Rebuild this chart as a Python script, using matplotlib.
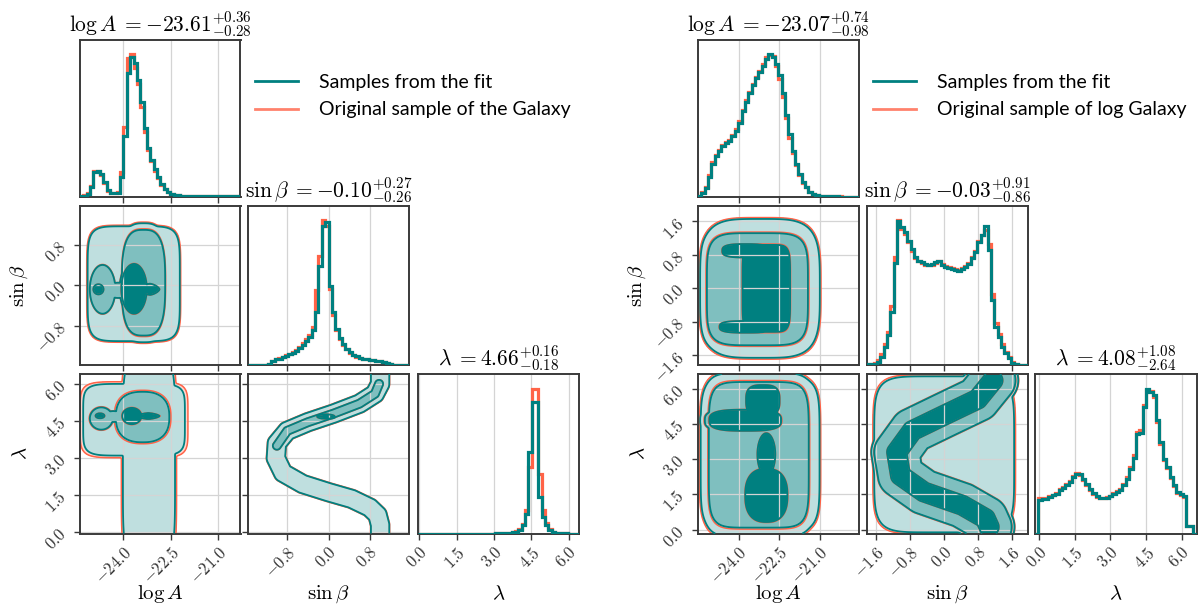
import numpy as np
import matplotlib
matplotlib.use('Agg')
import matplotlib.pyplot as plt
from matplotlib.lines import Line2D
from matplotlib.ticker import FixedLocator, FuncFormatter, NullLocator

plt.rcParams['mathtext.fontset'] = 'cm'
plt.rcParams['font.family'] = ['Lato', 'DejaVu Sans']

TEAL = '#008080'
RED = '#ff6347'
SPINE = '#3a3a3a'
TAU = 0.08      # softness of region joins
STEEP = 8.0     # edge steepness of a region

labels = [r'$\log A$', r'$\sin\beta$', r'$\lambda$']

# ---------------- left corner: "the Galaxy" ----------------
left_ranges = [(-25.35, -20.30), (-1.56, 1.56), (-0.05, 6.40)]
left_ticks = [[-24.0, -22.5, -21.0], [-0.8, 0.0, 0.8], [0.0, 1.5, 3.0, 4.5, 6.0]]
left_titles = [r'$\log A\;= {-23.61}^{+0.36}_{-0.28}$',
               r'$\sin\beta\;= {-0.10}^{+0.27}_{-0.26}$',
               r'$\lambda\;= {4.66}^{+0.16}_{-0.18}$']
left_legend = ['Samples from the fit', 'Original sample of the Galaxy']

# histogram heights, 48 bins over each range
left_logA_fit = [2, 3, 8, 28, 75, 80, 70, 45, 20, 12, 10, 12, 60, 185, 380, 430, 410, 360, 290, 210,
                 150, 113, 85, 60, 38, 24, 14, 9, 6, 4, 3, 3, 2, 2, 2, 1, 1, 1, 1, 1, 1, 1, 1, 1, 1, 1, 1, 1]
left_logA_orig = [2, 4, 10, 32, 78, 80, 66, 42, 18, 11, 10, 14, 75, 215, 425, 438, 395, 345, 275, 200,
                  142, 108, 80, 56, 35, 22, 13, 8, 6, 4, 3, 3, 2, 2, 2, 2, 2, 2, 2, 2, 2, 2, 2, 2, 2, 2, 2, 2]
left_sinb_fit = [0, 0, 0, 0, 0, 0, 3, 10, 16, 18, 22, 26, 31, 36, 42, 50, 60, 72, 85, 105,
                 160, 300, 420, 433, 238, 160, 108, 82, 62, 48, 38, 30, 25, 20, 18, 17, 15, 13, 12, 11,
                 8, 5, 2, 0, 0, 0, 0, 0]
left_sinb_orig = [0, 0, 0, 0, 0, 0, 3, 11, 17, 19, 23, 28, 33, 38, 45, 54, 64, 76, 90, 115,
                  225, 330, 438, 420, 230, 150, 104, 78, 60, 46, 36, 29, 24, 20, 18, 16, 14, 13, 12, 10,
                  7, 4, 2, 0, 0, 0, 0, 0]
left_lam_fit = [0] * 23 + [2, 3, 3, 3, 3, 4, 6, 12, 25, 60, 245, 398, 398, 110, 50, 25, 12, 5, 3, 2,
                           2, 1, 0, 0, 0]
left_lam_orig = [0] * 23 + [2, 3, 3, 3, 3, 4, 7, 14, 30, 70, 200, 438, 438, 180, 70, 32, 14, 6, 3, 2,
                            2, 1, 0, 0, 0]

# contour regions
# ('box', level, centre x, centre y, half width x, half width y, squareness)
# ('path', level, centre-line x, centre-line y, half width in axes units)
left_AS = [('box', 1, -23.66, 0.03, 1.45, 1.13, 6),
           ('box', 2, -24.64, -0.08, 0.40, 0.48, 2),
           ('box', 2, -23.35, 0.05, 0.68, 1.04, 3),
           ('box', 2, -24.15, -0.10, 0.35, 0.15, 2),
           ('box', 3, -24.77, -0.08, 0.16, 0.10, 2),
           ('box', 3, -23.65, -0.07, 0.40, 0.49, 2),
           ('box', 3, -23.15, -0.08, 0.30, 0.11, 1.5)]
left_AL = [('box', 1, -23.18, 3.0, 0.82, 4.0, 6),
           ('box', 1, -23.65, 4.55, 1.60, 1.45, 6),
           ('box', 2, -24.68, 4.60, 0.36, 0.45, 2),
           ('box', 2, -23.38, 4.66, 0.84, 1.02, 2.5),
           ('box', 2, -24.30, 4.68, 0.30, 0.22, 2),
           ('box', 3, -24.72, 4.71, 0.14, 0.10, 2),
           ('box', 3, -23.72, 4.70, 0.30, 0.33, 2),
           ('box', 3, -23.20, 4.70, 0.35, 0.12, 1.5)]
left_band_sinb = [1.0, 1.0, 0.95, 0.8, 0.45, 0.0, -0.5, -0.88, -1.02, -1.0, -0.8, -0.4, 0.1, 0.6, 0.9, 1.0, 1.0]
left_band_lam = [-0.5, 0.3, 0.7, 1.0, 1.35, 1.62, 1.95, 2.4, 3.0, 3.6, 4.1, 4.45, 4.8, 5.2, 5.6, 6.0, 6.8]
left_core_sinb = [-1.0, -0.8, -0.4, 0.1, 0.6, 0.9, 0.98]
left_core_lam = [3.5, 4.1, 4.45, 4.8, 5.2, 5.6, 6.0]
left_SL = [('path', 1, left_band_sinb, left_band_lam, 0.057),
           ('path', 2, left_core_sinb, left_core_lam, 0.025),
           ('box', 3, -0.05, 4.68, 0.17, 0.09, 2)]
left_grow = [1.02, 1.06, 1.04]

# ---------------- right corner: "log Galaxy" ----------------
right_ranges = [(-25.50, -19.55), (-1.82, 1.97), (-0.17, 6.62)]
right_ticks = [[-24.0, -22.5, -21.0], [-1.6, -0.8, 0.0, 0.8, 1.6], [0.0, 1.5, 3.0, 4.5, 6.0]]
right_titles = [r'$\log A\;= {-23.07}^{+0.74}_{-0.98}$',
                r'$\sin\beta\;= {-0.03}^{+0.91}_{-0.86}$',
                r'$\lambda\;= {4.08}^{+1.08}_{-2.64}$']
right_legend = ['Samples from the fit', 'Original sample of log Galaxy']

right_logA_fit = [2, 12, 25, 60, 100, 125, 140, 155, 165, 170, 185, 200, 225, 260, 290, 315, 340, 362, 380, 400,
                  420, 435, 425, 405, 370, 315, 250, 190, 140, 100, 70, 45, 30, 15, 8, 4, 3, 2, 2, 1,
                  1, 1, 0, 0, 0, 0, 0, 0]
right_logA_orig = [3, 14, 30, 65, 105, 128, 143, 158, 166, 172, 188, 205, 230, 265, 295, 320, 345, 365, 385, 405,
                   425, 432, 430, 400, 360, 305, 240, 180, 132, 95, 66, 42, 28, 14, 8, 5, 3, 2, 2, 1,
                   1, 1, 1, 0, 0, 0, 0, 0]
right_sinb_fit = [1, 1, 2, 8, 23, 53, 88, 158, 303, 428, 410, 395, 370, 345, 320, 310, 305, 300, 298, 300,
                  305, 310, 298, 292, 288, 285, 282, 280, 286, 292, 300, 318, 335, 365, 385, 413, 343, 193, 113, 83,
                  53, 33, 18, 5, 1, 0, 0, 0]
right_sinb_orig = [2, 2, 4, 12, 30, 62, 98, 175, 320, 430, 405, 388, 365, 340, 318, 308, 302, 298, 296, 298,
                   303, 308, 300, 294, 290, 287, 284, 282, 288, 295, 304, 322, 340, 368, 385, 400, 360, 210, 125, 90,
                   60, 38, 22, 8, 2, 0, 0, 0]
right_lam_fit = [0, 102, 105, 105, 110, 115, 120, 130, 138, 145, 155, 170, 180, 178, 165, 150, 135, 122, 112, 108,
                 108, 108, 112, 118, 125, 130, 145, 165, 195, 228, 300, 302, 380, 435, 425, 415, 340, 275, 225, 200,
                 170, 145, 125, 118, 112, 22, 22, 0]
right_lam_orig = [0, 108, 106, 107, 112, 117, 123, 133, 140, 148, 158, 172, 182, 176, 162, 147, 132, 120, 110, 106,
                  107, 109, 114, 121, 128, 134, 150, 170, 200, 235, 305, 310, 385, 430, 428, 410, 335, 268, 220, 196,
                  166, 142, 123, 116, 110, 24, 24, 0]

right_AS = [('box', 1, -23.20, 0.00, 2.21, 1.66, 4),
            ('box', 2, -23.30, -0.02, 1.87, 1.34, 5),
            ('box', 3, -22.97, 0.00, 0.88, 1.04, 6),
            ('box', 3, -23.75, 0.90, 0.85, 0.16, 3),
            ('box', 3, -23.75, -0.92, 0.95, 0.14, 3)]
right_AL = [('box', 1, -23.20, 3.20, 2.20, 3.32, 6),
            ('box', 2, -23.25, 3.18, 1.85, 3.10, 6),
            ('box', 3, -23.10, 5.50, 0.62, 0.65, 3),
            ('box', 3, -23.75, 4.65, 1.33, 0.45, 3),
            ('box', 3, -22.97, 3.20, 0.33, 0.90, 2),
            ('box', 3, -22.97, 1.45, 0.78, 1.13, 2.5)]
right_band_sinb = [1.06, 0.97, 0.43, -0.48, -1.03, -1.12, -0.75, -0.03, 0.79, 1.15]
right_band_lam = [0.11, 0.47, 1.03, 1.60, 2.30, 3.29, 4.21, 4.84, 5.55, 6.35]
right_SL = [('box', 1, 0.00, 3.20, 1.65, 3.32, 6),
            ('path', 2, right_band_sinb, right_band_lam, 0.14),
            ('path', 3, right_band_sinb, right_band_lam, 0.06)]
right_grow = [1.02, 1.02, 1.02]

# ---------------- layout (pixels of a 1198 x 606 canvas) ----------------
W, H = 1198, 606
ROWS = [(40, 196.5), (206, 364.5), (374, 533.5)]
LEFT_COLS = [(80, 240.5), (248, 409), (418, 578.5)]
RIGHT_COLS = [(698, 858.7), (867, 1027.7), (1035, 1196.5)]


def path_distance(X, Y, px, py):
    d = np.full(X.shape, np.inf)
    for x0, y0, x1, y1 in zip(px[:-1], py[:-1], px[1:], py[1:]):
        vx, vy = x1 - x0, y1 - y0
        t = np.clip(((X - x0) * vx + (Y - y0) * vy) / (vx * vx + vy * vy), 0, 1)
        d = np.minimum(d, np.hypot(X - x0 - t * vx, Y - y0 - t * vy))
    return d


def level_field(regions, xr, yr, grow=1.0, n=400):
    x = np.linspace(xr[0], xr[1], n)
    y = np.linspace(yr[0], yr[1], n)
    X, Y = np.meshgrid(x, y)
    wx, wy = xr[1] - xr[0], yr[1] - yr[0]
    acc = np.full(X.shape, np.exp(-1.0 / TAU))
    for reg in regions:
        if reg[0] == 'path':
            _, lev, px, py, hw = reg
            rho = path_distance((X - xr[0]) / wx, (Y - yr[0]) / wy,
                                (np.asarray(px) - xr[0]) / wx,
                                (np.asarray(py) - yr[0]) / wy) / hw
        else:
            _, lev, cx, cy, hx, hy, p = reg
            rho = (np.abs((X - cx) / hx) ** p + np.abs((Y - cy) / hy) ** p) ** (1.0 / p)
        g = lev - 0.5 + np.minimum(STEEP * (1 - rho / grow), 0.5)
        acc += np.exp(g / TAU)
    return X, Y, TAU * np.log(acc)


def style(ax):
    for s in ax.spines.values():
        s.set_color(SPINE)
        s.set_linewidth(1.4)
    ax.set_axisbelow(True)
    ax.tick_params(direction='out', length=4, width=1, color=SPINE, labelsize=12, labelcolor='#333333')
    fmt = FuncFormatter(lambda v, _: f'${v:.1f}$')
    ax.xaxis.set_major_formatter(fmt)
    ax.yaxis.set_major_formatter(fmt)


def add_axes(fig, col, row):
    return fig.add_axes([col[0] / W, 1 - row[1] / H, (col[1] - col[0]) / W, (row[1] - row[0]) / H])


def draw_corner(fig, cols, ranges, ticks, titles, hists, regions, grows, legend_labels, legend_x):
    fill_colors = [(0, 0.5, 0.5, 0.25), (0, 0.5, 0.5, 0.5), (0, 0.5, 0.5, 1.0)]
    pink = (1.0, 0.388, 0.278, 0.25)
    k = 0
    for i in range(3):
        for j in range(i + 1):
            ax = add_axes(fig, cols[j], ROWS[i])
            style(ax)
            ax.set_xlim(ranges[j])
            ax.xaxis.set_major_locator(FixedLocator(ticks[j]))
            if i == j:
                fit, orig = hists[i]
                edges = np.linspace(ranges[i][0], ranges[i][1], len(fit) + 1)
                ax.stairs(orig, edges, baseline=0, color=RED, lw=2.3, zorder=2)
                ax.stairs(fit, edges, baseline=0, color=TEAL, lw=2.3, zorder=3)
                ax.set_ylim(0, 1.1 * max(max(fit), max(orig)))
                ax.yaxis.set_major_locator(NullLocator())
                ax.grid(True, axis='x', color='#d4d4d4', lw=0.9)
                ax.set_title(titles[i], fontsize=15.5, pad=3)
            else:
                ax.set_ylim(ranges[i])
                ax.yaxis.set_major_locator(FixedLocator(ticks[i]))
                ax.grid(True, color='#d4d4d4', lw=0.9)
                X, Y, G = level_field(regions[k], ranges[j], ranges[i])
                Xr, Yr, Gr = level_field(regions[k], ranges[j], ranges[i], grow=grows[k])
                ax.contourf(Xr, Yr, Gr, levels=[0.5, 4], colors=[pink], zorder=0.2)
                ax.contourf(X, Y, G, levels=[0.5, 4], colors=['white'], zorder=0.3)
                ax.contourf(X, Y, G, levels=[0.5, 1.5, 2.5, 4], colors=fill_colors, zorder=0.4)
                ax.contour(Xr, Yr, Gr, levels=[0.5, 1.5, 2.5], colors=RED, linewidths=1.1, zorder=2)
                ax.contour(X, Y, G, levels=[0.5, 1.5, 2.5], colors=TEAL, linewidths=1.3, zorder=3)
                k += 1
            if i < 2:
                ax.set_xticklabels([])
            else:
                for lab in ax.get_xticklabels():
                    lab.set_rotation(45)
                    lab.set_rotation_mode('anchor')
                    lab.set_ha('right')
                    lab.set_va('top')
                ax.set_xlabel(labels[j], fontsize=15)
                ax.xaxis.set_label_coords(0.5, -0.31)
            if j > 0 or i == 0:
                ax.set_yticklabels([])
            else:
                ax.tick_params(axis='y', labelrotation=45)
                ax.set_ylabel(labels[i], fontsize=15)
                ax.yaxis.set_label_coords(-0.31, 0.5)
    handles = [Line2D([], [], color=TEAL, lw=2), Line2D([], [], color=RED, lw=2, alpha=0.8)]
    fig.legend(handles, legend_labels, loc='center left', bbox_to_anchor=(legend_x, 1 - 96 / H),
               frameon=False, fontsize=14, handlelength=2.2, handletextpad=1.1,
               borderpad=0, borderaxespad=0, labelspacing=0.55)


fig = plt.figure(figsize=(W / 100, H / 100), dpi=100)
draw_corner(fig, LEFT_COLS, left_ranges, left_ticks, left_titles,
            [(left_logA_fit, left_logA_orig), (left_sinb_fit, left_sinb_orig), (left_lam_fit, left_lam_orig)],
            [left_AS, left_AL, left_SL], left_grow, left_legend, 255 / W)
draw_corner(fig, RIGHT_COLS, right_ranges, right_ticks, right_titles,
            [(right_logA_fit, right_logA_orig), (right_sinb_fit, right_sinb_orig), (right_lam_fit, right_lam_orig)],
            [right_AS, right_AL, right_SL], right_grow, right_legend, 873 / W)

fig.savefig('out.png', dpi=100)
